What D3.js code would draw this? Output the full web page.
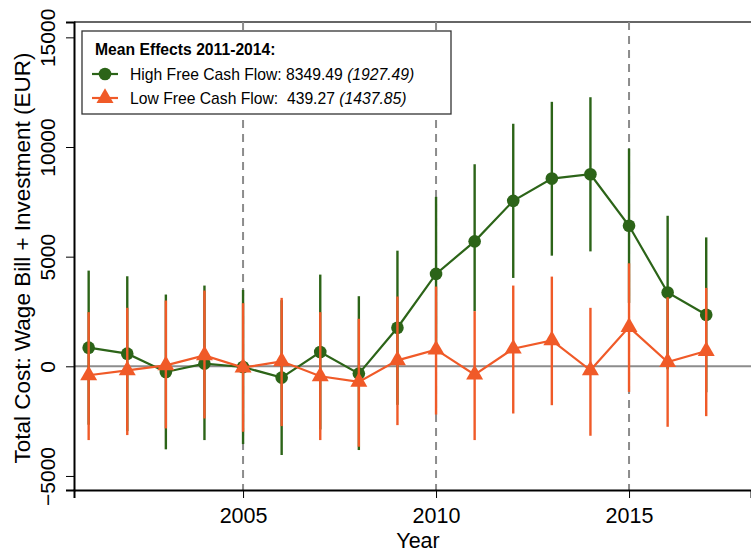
<!DOCTYPE html>
<html>
<head>
<meta charset="utf-8">
<script src="https://cdn.jsdelivr.net/npm/d3@7"></script>
<style>
  body { margin: 0; background: #fff; }
  text { font-family: "Liberation Sans", Arial, Helvetica, sans-serif; }
</style>
</head>
<body>
<div id="chart"></div>
<script>
// years on the x axis
var years = [2001, 2002, 2003, 2004, 2005, 2006, 2007, 2008, 2009,
             2010, 2011, 2012, 2013, 2014, 2015, 2016, 2017];

// high free cash flow: point estimate and 95% CI
var highEst = [850, 576, -258, 121, -30, -515, 652, -333, 1758,
               4214, 5697, 7545, 8560, 8758, 6409, 3364, 2348];
var highLo  = [-2664, -2954, -3786, -3364, -3545, -4045, -2878, -3818, -1757,
               700, 2515, 4030, 5045, 5240, 2894, -136, -1183];
var highHi  = [4364, 4106, 3273, 3682, 3485, 3015, 4182, 3197, 5273,
               7727, 9214, 11060, 12060, 12270, 9924, 6864, 5879];

// low free cash flow: point estimate and 95% CI
var lowEst = [-409, -182, 45, 500, -60, 227, -455, -712, 273,
              758, -379, 803, 1182, -182, 1788, 197, 697];
var lowLo  = [-3364, -3136, -2833, -2379, -2985, -2727, -3364, -3667, -2682,
              -2197, -3364, -2152, -1773, -3167, -1167, -2758, -2273];
var lowHi  = [2470, 2667, 3000, 3455, 2879, 3121, 2470, 2167, 3182,
              3636, 2515, 3682, 4091, 2667, 4697, 3152, 3576];

var yTicks = [-5000, 0, 5000, 10000, 15000];
var xTicks = [2005, 2010, 2015];
var refYears = [2005, 2010, 2015];

var GREEN = "#2c6418", ORANGE = "#f05a28";

var W = 751, H = 554;
var margin = {top: 22, right: 0, bottom: 64, left: 74},
    width = W - margin.left - margin.right,
    height = H - margin.top - margin.bottom;

var svg = d3.select("#chart")
  .append("svg")
    .attr("width", W)
    .attr("height", H);

var g = svg.append("g")
    .attr("transform", "translate(" + margin.left + "," + margin.top + ")");

var x = d3.scaleLinear()
  .domain([2000.62, 2018.16])
  .range([0, width]);

var y = d3.scaleLinear()
  .domain([-5640, 15700])
  .range([height, 0]);

// top border line
g.append("line")
  .attr("x1", 0).attr("x2", width)
  .attr("y1", 0).attr("y2", 0)
  .attr("stroke", "#333").attr("stroke-width", 1.3);

// dashed reference years
g.selectAll(".vref")
  .data(refYears)
  .enter().append("line")
    .attr("x1", d => x(d)).attr("x2", d => x(d))
    .attr("y1", 0).attr("y2", height)
    .attr("stroke", "#8c8c8c")
    .attr("stroke-width", 2)
    .attr("stroke-dasharray", "8,6");

// zero line
g.append("line")
  .attr("x1", 0).attr("x2", width)
  .attr("y1", y(0)).attr("y2", y(0))
  .attr("stroke", "#8c8c8c").attr("stroke-width", 2);

// X axis
var xAxis = g.append("g")
  .attr("transform", "translate(0," + height + ")")
  .call(d3.axisBottom(x).tickValues(xTicks).tickFormat(d3.format("d"))
    .tickSize(8).tickPadding(10));
xAxis.select(".domain").attr("stroke", "#000").attr("stroke-width", 2);
xAxis.selectAll(".tick line").attr("stroke", "#000").attr("stroke-width", 1);
xAxis.selectAll(".tick text").attr("font-size", "21.5px").attr("fill", "#000")
  .style("font-family", "'Liberation Sans', Arial, sans-serif");

// Y axis
var yAxis = g.append("g")
  .call(d3.axisLeft(y).tickValues(yTicks).tickFormat(d3.format("d"))
    .tickSize(8).tickPadding(0));
yAxis.select(".domain").attr("stroke", "#000").attr("stroke-width", 2);
yAxis.selectAll(".tick line").attr("stroke", "#000").attr("stroke-width", 1);
yAxis.selectAll(".tick text")
  .attr("font-size", "21px").attr("fill", "#000")
  .attr("x", null).attr("dy", null)
  .attr("text-anchor", "middle")
  .attr("transform", "translate(-19,0) rotate(-90)")
  .style("font-family", "'Liberation Sans', Arial, sans-serif");

// axis titles
svg.append("text")
  .attr("x", 418)
  .attr("y", 548)
  .attr("text-anchor", "middle")
  .attr("font-size", "21.5px")
  .text("Year");

svg.append("text")
  .attr("transform", "translate(30,258) rotate(-90)")
  .attr("text-anchor", "middle")
  .attr("font-size", "22.5px")
  .text("Total Cost: Wage Bill + Investment (EUR)");

function drawSeries(est, lo, hi, color, shape) {
  var data = years.map(function(yr, i) {
    return {year: yr, est: est[i], lo: lo[i], hi: hi[i]};
  });
  var s = g.append("g");
  s.selectAll(".ci")
    .data(data)
    .enter().append("line")
      .attr("x1", d => x(d.year)).attr("x2", d => x(d.year))
      .attr("y1", d => y(d.lo)).attr("y2", d => y(d.hi))
      .attr("stroke", color).attr("stroke-width", 2.4);
  s.append("path")
    .datum(data)
    .attr("fill", "none")
    .attr("stroke", color)
    .attr("stroke-width", 2.2)
    .attr("d", d3.line()
      .x(d => x(d.year))
      .y(d => y(d.est)));
  s.selectAll(".pt")
    .data(data)
    .enter().append("path")
      .attr("transform", d => "translate(" + x(d.year) + "," + y(d.est) + ")")
      .attr("d", d3.symbol().type(shape).size(125))
      .attr("fill", color);
}

drawSeries(highEst, highLo, highHi, GREEN, d3.symbolCircle);
drawSeries(lowEst, lowLo, lowHi, ORANGE, d3.symbolTriangle);

// legend
var lg = svg.append("g").attr("transform", "translate(82,31)");
lg.append("rect")
  .attr("width", 369).attr("height", 83)
  .attr("fill", "#fff")
  .attr("stroke", "#333").attr("stroke-width", 1.3);
lg.append("text")
  .attr("x", 13).attr("y", 24)
  .attr("font-size", "15.7px").attr("font-weight", "bold")
  .text("Mean Effects 2011-2014:");

var legendRows = [
  {color: GREEN, shape: d3.symbolCircle, label: "High Free Cash Flow: 8349.49 ", se: "(1927.49)"},
  {color: ORANGE, shape: d3.symbolTriangle, label: "Low Free Cash Flow:  439.27 ", se: "(1437.85)"}
];
legendRows.forEach(function(r, i) {
  var cy = 43 + i * 24;
  lg.append("line")
    .attr("x1", 10).attr("x2", 36).attr("y1", cy).attr("y2", cy)
    .attr("stroke", r.color).attr("stroke-width", 2.2);
  lg.append("path")
    .attr("transform", "translate(23," + cy + ")")
    .attr("d", d3.symbol().type(r.shape).size(125))
    .attr("fill", r.color);
  var t = lg.append("text")
    .attr("x", 48).attr("y", cy + 6)
    .attr("font-size", "15.7px")
    .attr("xml:space", "preserve")
    .style("white-space", "pre");
  t.append("tspan").text(r.label);
  t.append("tspan").attr("font-style", "italic").text(r.se);
});
</script>
</body>
</html>
